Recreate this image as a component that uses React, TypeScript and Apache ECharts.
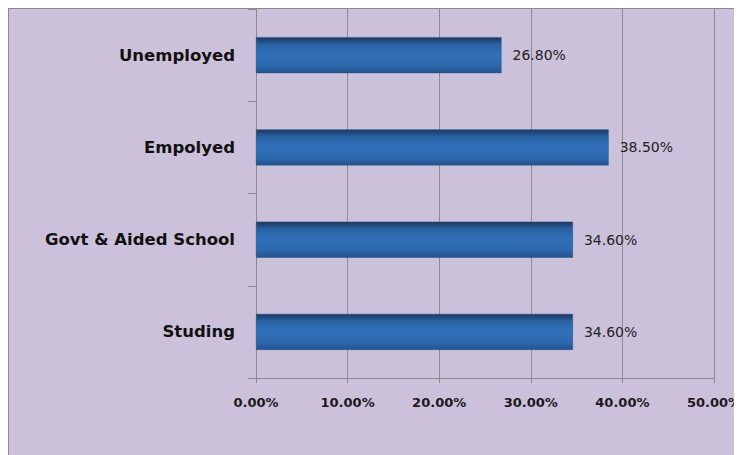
import React, { useEffect, useRef } from "react";
import * as echarts from "echarts";

const categories = ["Studing", "Govt & Aided School", "Empolyed", "Unemployed"];
const values = [34.6, 34.6, 38.5, 26.8];
const xTicks = [0, 10, 20, 30, 40, 50];

export default function App() {
  const ref = useRef<HTMLDivElement>(null);
  useEffect(() => {
    if (!ref.current) return;
    const chart = echarts.init(ref.current, undefined, { renderer: "svg" });
    chart.setOption({
      animation: false,
      backgroundColor: "#ccc1da",
      grid: { left: 247, top: 0, right: 35, bottom: 81, containLabel: false },
      xAxis: {
        type: "value",
        min: xTicks[0],
        max: xTicks[xTicks.length - 1],
        interval: 10,
        axisLine: { show: true, lineStyle: { color: "#8c8c8c", width: 1 } },
        axisTick: { show: true, length: 5, lineStyle: { color: "#8c8c8c" } },
        splitLine: { show: true, lineStyle: { color: "#8c8c8c", width: 1 } },
        axisLabel: {
          formatter: (v: number) => v.toFixed(2) + "%",
          color: "#1a1a1a",
          fontWeight: "bold",
          fontSize: 13,
          fontFamily: "DejaVu Sans",
          margin: 18,
        },
      },
      yAxis: {
        type: "category",
        data: categories,
        axisLine: { show: true, lineStyle: { color: "#8c8c8c", width: 1 } },
        axisTick: { show: true, length: 8, lineStyle: { color: "#8c8c8c" } },
        axisLabel: {
          color: "#111",
          fontWeight: "bold",
          fontSize: 16.5,
          fontFamily: "DejaVu Sans",
          margin: 21,
        },
      },
      series: [
        {
          type: "bar",
          data: values,
          barWidth: 36,
          itemStyle: {
            borderColor: "#25558c",
            borderWidth: 0.5,
            color: new echarts.graphic.LinearGradient(0, 0, 0, 1, [
              { offset: 0, color: "#1a365c" },
              { offset: 0.2, color: "#2a62a4" },
              { offset: 0.45, color: "#306fb8" },
              { offset: 0.8, color: "#2d68ad" },
              { offset: 1, color: "#22528b" },
            ]),
          },
          label: {
            show: true,
            position: "right",
            distance: 11,
            formatter: (p: any) => p.value.toFixed(2) + "%",
            color: "#222",
            fontSize: 14,
            fontFamily: "DejaVu Sans",
          },
        },
      ],
    });
    return () => chart.dispose();
  }, []);
  return (
    <div
      ref={ref}
      style={{
        width: 740,
        height: 450,
        border: "1px solid #8a8a8a",
        borderRight: "none",
        borderBottom: "none",
      }}
    />
  );
}
